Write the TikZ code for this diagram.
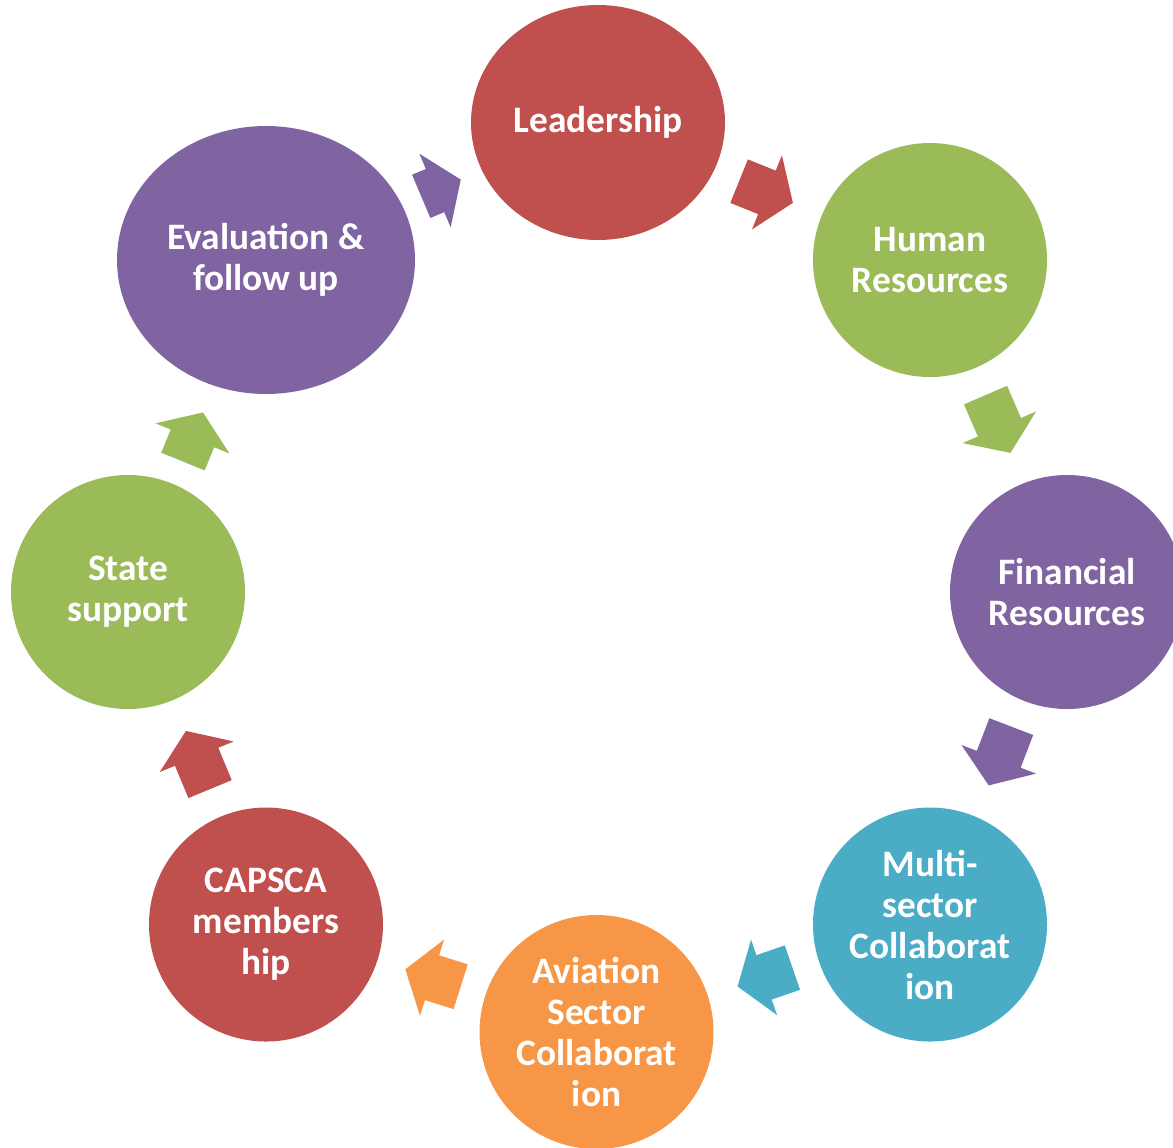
\documentclass[tikz,border=0pt]{standalone}
\usepackage{fontspec}
\setmainfont{Carlito}
\usetikzlibrary{shapes.geometric}
\definecolor{cred}{HTML}{C0504D}
\definecolor{cgreen}{HTML}{9BBB59}
\definecolor{cpurple}{HTML}{8064A2}
\definecolor{cblue}{HTML}{4BACC6}
\definecolor{corange}{HTML}{F79646}

\begin{document}
\begin{tikzpicture}[x=0.75pt, y=-0.75pt,
	bubble/.style={ellipse, minimum width=175.5pt, minimum height=175.5pt, inner sep=0pt,
		text=white, align=center, font=\fontsize{28}{30.75}\selectfont\bfseries},
	flow/.pic={\path[pic actions] ({-#1*0.5pt},-17.6pt) -- ({#1*0.5pt-21pt},-17.6pt) -- ({#1*0.5pt-21pt},-30pt)
		-- ({#1*0.5pt},0pt) -- ({#1*0.5pt-21pt},30pt) -- ({#1*0.5pt-21pt},17.6pt) -- ({-#1*0.5pt},17.6pt) -- cycle;}]
		
		\useasboundingbox (0,0) rectangle (1173,1147);
		
		\node[bubble, fill=cred, minimum width=190.5pt, minimum height=176.25pt] (lead) at (598,122.5) {Leadership};
		\node[bubble, fill=cgreen] (human) at (930,260) {Human\\Resources};
		\node[bubble, fill=cpurple] (fin) at (1067,592) {Financial\\Resources};
		\node[bubble, fill=cblue] (multi) at (930,924.5) {Multi-\\sector\\Collaborat\\ion};
		\node[bubble, fill=corange] (aviation) at (596.5,1032) {Aviation\\Sector\\Collaborat\\ion};
		\node[bubble, fill=cred] (capsca) at (266,924.5) {CAPSCA\\members\\hip};
		\node[bubble, fill=cgreen] (state) at (128,592) {State\\support};
		\node[bubble, fill=cpurple, minimum width=223.5pt, minimum height=201pt] (eval) at (266,260) {Evaluation \&\\follow up};
		
		\pic[fill=cred, rotate=-22] (a1) at (766,192) {flow=43.5};
		\pic[fill=cgreen, rotate=-66.7] (a2) at (998,424) {flow=47.25};
		\pic[fill=cpurple, rotate=-111] (a3) at (1000,756) {flow=47.25};
		\pic[fill=cblue, rotate=-161] (a4) at (765,977) {flow=43.5};
		\pic[fill=corange, rotate=162.5] (a5) at (433,978) {flow=43.5};
		\pic[fill=cred, rotate=112.5] (a6) at (198,760) {flow=47.25};
		\pic[fill=cgreen, rotate=67.8] (a7) at (193,437) {flow=39.75};
		\pic[fill=cpurple, rotate=23] (a8) at (441,188) {flow=32.25};
		\end{tikzpicture}
\end{document}
